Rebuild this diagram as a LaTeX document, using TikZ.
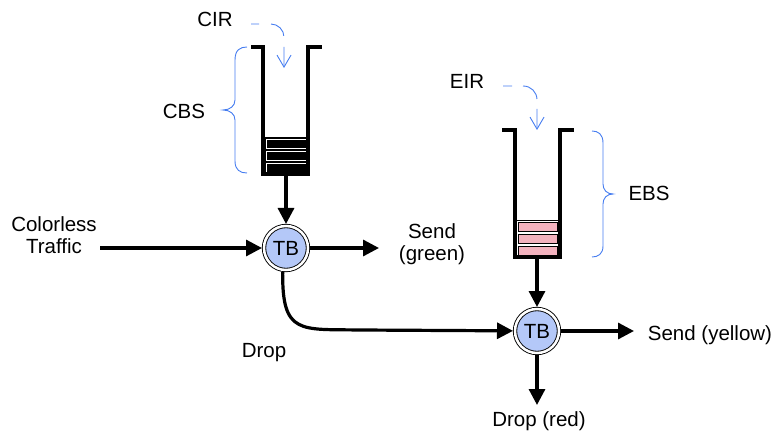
\documentclass[tikz,border=0pt]{standalone}
\usepackage{fontspec}
\setmainfont{Liberation Sans}
\usetikzlibrary{arrows.meta}
\definecolor{tbblue}{RGB}{180,200,248}
\definecolor{barpink}{RGB}{243,178,190}
\definecolor{ratecol}{RGB}{70,125,240}
\begin{document}
\begin{tikzpicture}[x=1pt,y=-1pt,
  font=\fontsize{20.5}{22}\selectfont,
  lbl/.style={inner sep=0pt},
  flow/.style={line width=3.2pt,-{Triangle[length=16pt,width=16pt]}},
  bucketwall/.style={line width=3.4pt,miter limit=10},
  tbnode/.style={circle,minimum size=44pt,inner sep=0pt,outer sep=2pt,draw,line width=0.9pt,double,double distance=2.5pt,fill=tbblue},
  ratearrow/.style={draw=ratecol,line width=0.9pt,-{Straight Barb[length=12pt,width=14pt]}},
  bracepath/.style={draw=ratecol,line width=0.9pt}
]
\useasboundingbox (0,0) rectangle (775,435);

% ---- bucket 1 (committed) ----
\fill[black] (263,137) rectangle (308,174);
\draw[white,line width=0.8pt] (266,139) rectangle (306,148);
\draw[white,line width=0.8pt] (266,151) rectangle (306,160);
\draw[white,line width=0.8pt] (266,163) rectangle (306,172);
\draw[bucketwall] (251,47) -- (263,47) -- (263,174) -- (308,174) -- (308,47) -- (322,47);

% ---- bucket 2 (excess) ----
\draw[black,line width=1pt] (515,221) -- (560,221);
\draw[black,line width=1pt,fill=barpink] (518,222.5) rectangle (557,232);
\draw[black,line width=1pt,fill=barpink] (518,235) rectangle (557,244);
\draw[black,line width=1pt,fill=barpink] (518,247) rectangle (557,256);
\draw[bucketwall] (502,130) -- (515,130) -- (515,257) -- (560,257) -- (560,130) -- (574,130);

% ---- braces ----
\draw[bracepath] (247,47) .. controls (240,47) and (235,50) .. (235,60) -- (235,100)
  .. controls (235,106) and (230,110) .. (223,110)
  .. controls (230,110) and (235,114) .. (235,120) -- (235,161)
  .. controls (235,170) and (240,173) .. (247,173);
\draw[bracepath] (592,131) .. controls (598,131) and (603,134) .. (603,143) -- (603,184)
  .. controls (603,190) and (607,194) .. (613,194)
  .. controls (607,194) and (603,198) .. (603,204) -- (603,246)
  .. controls (603,254) and (598,257) .. (592,257);

% ---- rate arrows ----
\draw[ratearrow,dash pattern=on 8pt off 12pt on 19pt off 11pt on 60pt]
  (251,24) -- (271,24) .. controls (278,24) and (284,30) .. (284,37) -- (284,68);
\draw[ratearrow,dash pattern=on 9pt off 11pt on 21pt off 10pt on 60pt]
  (503,86) -- (523,86) .. controls (531,86) and (537,92) .. (537,100) -- (537,130);

% ---- labels ----
\node[lbl,anchor=base] (cir) at (215,27) {CIR};
\node[lbl,anchor=base] (cbs) at (184,119) {CBS};
\node[lbl,anchor=base] (eir) at (467,89) {EIR};
\node[lbl,anchor=base] (ebs) at (649,201) {EBS};
\node[lbl,align=center] (src) at (54,235) {Colorless\\Traffic};
\node[lbl,align=center] (green) at (432,244) {Send\\(green)};
\node[lbl,anchor=base] (drop) at (264,357) {Drop};
\node[lbl,anchor=base] (yellow) at (710,340) {Send (yellow)};
\node[lbl,anchor=base] (red) at (539,426) {Drop (red)};

% ---- token bucket meters ----
\node[tbnode] (tb1) at (286,248) {TB};
\node[tbnode] (tb2) at (537,331) {TB};

% ---- connector ends ----
\coordinate (inL) at (100,248);
\coordinate (outG) at (379,248);
\coordinate (outY) at (634,331);
\coordinate (outR) at (537,405);
\coordinate (b1) at (286,174);
\coordinate (b2) at (537,257);

% ---- connectors ----
\draw[flow] (inL) -- (tb1);
\draw[flow] (tb1) -- (outG);
\draw[flow] (b1) -- (tb1);
\draw[flow] (tb1.262) .. controls (282,335) and (300,329) .. (360,330) -- (tb2);
\draw[flow] (b2) -- (tb2);
\draw[flow] (tb2) -- (outY);
\draw[flow] (tb2) -- (outR);
\end{tikzpicture}
\end{document}
